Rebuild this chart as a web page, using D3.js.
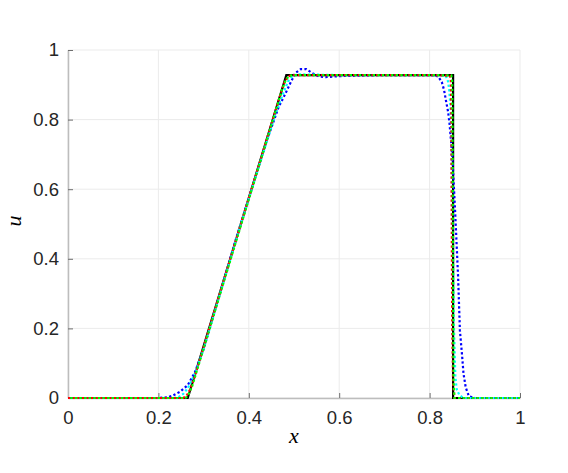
<!DOCTYPE html>
<html>
<head>
<meta charset="utf-8">
<script src="https://cdn.jsdelivr.net/npm/d3@7"></script>
<style>
  body { margin: 0; background: #fff; }
</style>
</head>
<body>
<div id="chart"></div>
<script>
// tick values
const xTicks = [0, 0.2, 0.4, 0.6, 0.8, 1];
const yTicks = [0, 0.2, 0.4, 0.6, 0.8, 1];

// exact solution (black)
const exactX = [0, 0.265, 0.483, 0.852, 0.852, 1];
const exactU = [0, 0, 0.928, 0.928, 0, 0];

// blue dotted (most diffusive)
const blueX = [0, 0.2, 0.22, 0.232, 0.248, 0.265, 0.281, 0.3, 0.37, 0.44, 0.466, 0.48, 0.492, 0.503, 0.515, 0.527, 0.54, 0.555, 0.57, 0.6, 0.7, 0.8, 0.812, 0.819, 0.827, 0.832, 0.836, 0.841, 0.844, 0.85, 0.856, 0.863, 0.867, 0.872, 0.875, 0.88, 0.887, 0.9, 1];
const blueU = [0, 0, 0.002, 0.007, 0.018, 0.037, 0.075, 0.14, 0.45, 0.74, 0.836, 0.872, 0.905, 0.934, 0.945, 0.945, 0.934, 0.924, 0.922, 0.925, 0.928, 0.928, 0.927, 0.924, 0.908, 0.885, 0.856, 0.822, 0.79, 0.7, 0.55, 0.35, 0.195, 0.12, 0.07, 0.03, 0.005, 0, 0];

// cyan dotted
const cyanX = [0, 0.235, 0.245, 0.255, 0.265, 0.28, 0.3, 0.38, 0.46, 0.475, 0.487, 0.497, 0.51, 0.6, 0.8, 0.835, 0.84, 0.843, 0.846, 0.848, 0.851, 0.854, 0.857, 0.86, 0.866, 0.875, 1];
const cyanU = [0, 0, 0.003, 0.012, 0.028, 0.068, 0.14, 0.49, 0.82, 0.872, 0.91, 0.926, 0.93, 0.928, 0.928, 0.926, 0.915, 0.89, 0.84, 0.75, 0.5, 0.2, 0.06, 0.025, 0.008, 0, 0];

// red dotted
const redX = [0, 0.255, 0.262, 0.27, 0.28, 0.38, 0.472, 0.48, 0.488, 0.5, 0.8, 0.845, 0.847, 0.848, 0.849, 0.85, 0.852, 0.855, 1];
const redU = [0, 0, 0.006, 0.024, 0.06, 0.49, 0.88, 0.91, 0.925, 0.928, 0.928, 0.926, 0.91, 0.8, 0.5, 0.2, 0.04, 0, 0];

// green dotted
const greenX = [0, 0.26, 0.266, 0.275, 0.38, 0.474, 0.482, 0.49, 0.5, 0.8, 0.848, 0.85, 0.851, 0.852, 0.853, 0.855, 1];
const greenU = [0, 0, 0.008, 0.035, 0.485, 0.888, 0.915, 0.926, 0.928, 0.928, 0.927, 0.91, 0.7, 0.3, 0.05, 0, 0];

const margin = {top: 50, right: 48, bottom: 75, left: 68};
const width = 568 - margin.left - margin.right;
const height = 473 - margin.top - margin.bottom;

const svg = d3.select("#chart").append("svg")
    .attr("width", 568)
    .attr("height", 473)
  .append("g")
    .attr("transform", `translate(${margin.left},${margin.top})`);

const x = d3.scaleLinear().domain([0, 1]).range([0, width]);
const y = d3.scaleLinear().domain([0, 1]).range([height, 0]);

// grid
svg.append("g").selectAll("line").data(xTicks).join("line")
    .attr("x1", d => x(d)).attr("x2", d => x(d))
    .attr("y1", 0).attr("y2", height)
    .attr("stroke", "#ebebeb").attr("stroke-width", 1);
svg.append("g").selectAll("line").data(yTicks).join("line")
    .attr("x1", 0).attr("x2", width)
    .attr("y1", d => y(d)).attr("y2", d => y(d))
    .attr("stroke", "#ebebeb").attr("stroke-width", 1);

// axes
const xAxis = svg.append("g")
    .attr("transform", `translate(0,${height})`)
    .call(d3.axisBottom(x).tickValues(xTicks).tickSizeInner(-5).tickSizeOuter(0).tickPadding(13)
      .tickFormat(d => d3.format("~g")(d)));
const yAxis = svg.append("g")
    .call(d3.axisLeft(y).tickValues(yTicks).tickSizeInner(-5).tickSizeOuter(0).tickPadding(9)
      .tickFormat(d => d3.format("~g")(d)));

[xAxis, yAxis].forEach(a => {
  a.select(".domain").attr("stroke", "#bdbdbd").attr("stroke-width", 1.5);
  a.selectAll(".tick line").attr("stroke", "#6e6e6e");
  a.selectAll(".tick text").attr("fill", "#262626")
    .style("font-size", "18.5px")
    .style("font-family", "'Liberation Sans', Arial, sans-serif");
});

const line = d3.line().x(d => x(d[0])).y(d => y(d[1]));
const pts = (xs, us) => xs.map((v, i) => [v, us[i]]);

svg.append("path").datum(pts(exactX, exactU))
    .attr("d", line).attr("fill", "none")
    .attr("stroke", "#000").attr("stroke-width", 2.2);

const dotted = [
  {xs: blueX, us: blueU, color: "#0000ff", offset: 0},
  {xs: cyanX, us: cyanU, color: "#00ffff", offset: 0},
  {xs: redX, us: redU, color: "#ff0000", offset: 0},
  {xs: greenX, us: greenU, color: "#00ff00", offset: 2.3}
];
dotted.forEach(s => {
  svg.append("path").datum(pts(s.xs, s.us))
    .attr("d", line).attr("fill", "none")
    .attr("stroke", s.color).attr("stroke-width", 2.2)
    .attr("stroke-dasharray", "2.3,2.3")
    .attr("stroke-dashoffset", s.offset);
});

// labels
svg.append("text")
    .attr("x", width / 2).attr("y", height + 45)
    .attr("text-anchor", "middle")
    .style("font-family", "'Liberation Serif', 'Times New Roman', serif")
    .style("font-style", "italic").style("font-size", "22px")
    .text("x");
svg.append("text")
    .attr("transform", `translate(-47,${height / 2 - 3}) rotate(-90)`)
    .attr("text-anchor", "middle")
    .style("font-family", "'Liberation Serif', 'Times New Roman', serif")
    .style("font-style", "italic").style("font-size", "22px")
    .text("u");
</script>
</body>
</html>
